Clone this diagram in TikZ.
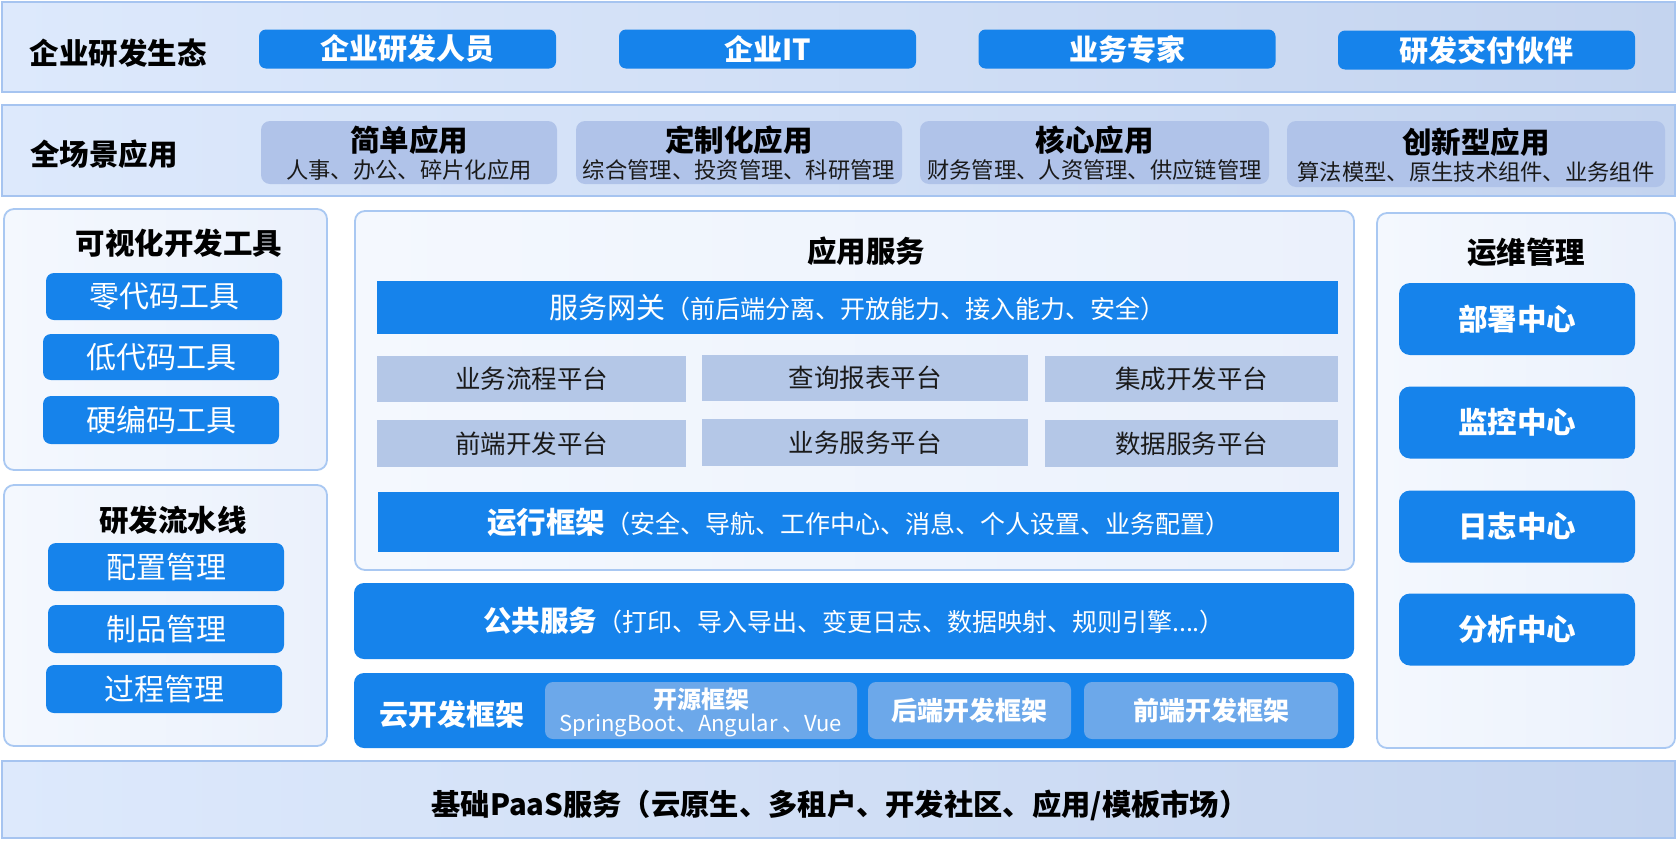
\documentclass[tikz,border=0pt]{standalone}
\usepackage{fontspec}
\setmainfont{Noto Sans CJK SC}
\definecolor{mblue}{HTML}{1683EB}
\definecolor{bandL}{HTML}{DDE9FC}
\definecolor{bandR}{HTML}{C4D4EF}
\definecolor{bandborder}{HTML}{A6C4F0}
\definecolor{panelL}{HTML}{F4F8FE}
\definecolor{panelR}{HTML}{EBF1FC}
\definecolor{panelborder}{HTML}{A9C8F2}
\definecolor{appbox}{HTML}{B0C3E9}
\definecolor{platbox}{HTML}{B4C7E7}
\definecolor{cloudsub}{HTML}{6CA8EA}
\definecolor{darktext}{HTML}{1A1A1A}
\newcommand\myfs[1]{\fontsize{#1}{#1}\selectfont}
\tikzset{
  band/.style={draw=bandborder, line width=1.5pt, left color=bandL, right color=bandR},
  panel/.style={draw=panelborder, line width=1.8pt, rounded corners=10pt, left color=panelL, right color=panelR},
  btn/.style={fill=mblue, rounded corners=7pt, text=white},
  appb/.style={fill=appbox, rounded corners=9pt},
  platb/.style={fill=platbox, text=darktext, font=\myfs{25.5}},
  bar/.style={fill=mblue, text=white},
  cloudb/.style={fill=cloudsub, rounded corners=8pt, text=white},
  ttl/.style={font=\bfseries\myfs{29.5}, text=black},
  tool/.style={btn, minimum width=236pt, rounded corners=8pt, font=\myfs{30}},
  ops/.style={btn, minimum width=236pt, minimum height=72pt, rounded corners=11pt, font=\bfseries\myfs{29.5}},
  every node/.style={inner sep=0pt, outer sep=0pt}
}
\begin{document}
\begin{tikzpicture}[x=1pt,y=-1pt]
\useasboundingbox (0,0) rectangle (1678,841);

% ---- row 1: ecosystem
\node[band, minimum width=1673pt, minimum height=90pt] (eco) at (838.5,47) {};
\node[ttl] (ecol) at (118,53) {企业研发生态};
\node[btn, minimum width=297pt, minimum height=39pt, font=\bfseries\myfs{29}] (eco1) at (407.5,49) {企业研发人员};
\node[btn, minimum width=297pt, minimum height=39pt, font=\bfseries\myfs{29}] (eco2) at (767.5,49) {企业IT};
\node[btn, minimum width=297pt, minimum height=39pt, font=\bfseries\myfs{29}] (eco3) at (1127,49) {业务专家};
\node[btn, minimum width=297pt, minimum height=39pt, font=\bfseries\myfs{29}] (eco4) at (1486.5,50) {研发交付伙伴};

% ---- row 2: applications
\node[band, minimum width=1673pt, minimum height=91pt] (app) at (838.5,150.5) {};
\node[ttl] (appl) at (104,154) {全场景应用};
\node[appb, minimum width=296pt, minimum height=63pt] (a1) at (409,152.5) {};
\node[appb, minimum width=326pt, minimum height=63pt] (a2) at (739,152.5) {};
\node[appb, minimum width=349pt, minimum height=63pt] (a3) at (1094.5,152.5) {};
\node[appb, minimum width=378pt, minimum height=66pt] (a4) at (1476,154) {};
\node[ttl] (a1t) at (409,140) {简单应用};
\node[font=\myfs{22.3}, text=darktext] (a1s) at (409,170) {人事、办公、碎片化应用};
\node[ttl] (a2t) at (739,140) {定制化应用};
\node[font=\myfs{22.3}, text=darktext] (a2s) at (739,170) {综合管理、投资管理、科研管理};
\node[ttl] (a3t) at (1094.5,140) {核心应用};
\node[font=\myfs{22.3}, text=darktext] (a3s) at (1094.5,170) {财务管理、人资管理、供应链管理};
\node[ttl] (a4t) at (1476,142) {创新型应用};
\node[font=\myfs{22.3}, text=darktext] (a4s) at (1476,172) {算法模型、原生技术组件、业务组件};

% ---- left column
\node[panel, minimum width=323pt, minimum height=261pt] (vis) at (165.5,339.5) {};
\node[ttl] (vist) at (179,243) {可视化开发工具};
\node[tool, minimum height=47pt] (t1) at (164,296.5) {零代码工具};
\node[tool, minimum height=46pt] (t2) at (161,357) {低代码工具};
\node[tool, minimum height=48pt] (t3) at (161,420) {硬编码工具};

\node[panel, minimum width=323pt, minimum height=261pt] (pipe) at (165.5,615.5) {};
\node[ttl] (pipet) at (173,520) {研发流水线};
\node[tool, minimum height=48pt] (p1) at (166,567) {配置管理};
\node[tool, minimum height=48pt] (p2) at (166,629) {制品管理};
\node[tool, minimum height=48pt] (p3) at (164,689) {过程管理};

% ---- centre column
\node[panel, minimum width=999pt, minimum height=359pt] (svc) at (854.5,390.5) {};
\node[ttl] (svct) at (866,251) {应用服务};
\node[bar, minimum width=961pt, minimum height=53pt] (gw) at (857.5,307.5)
  {{\myfs{29}服务网关}{\myfs{25}（前后端分离、开放能力、接入能力、安全）}};
\node[platb, minimum width=309pt, minimum height=46pt] (g11) at (531.5,379) {业务流程平台};
\node[platb, minimum width=326pt, minimum height=46pt] (g12) at (865,378) {查询报表平台};
\node[platb, minimum width=293pt, minimum height=46pt] (g13) at (1191.5,379) {集成开发平台};
\node[platb, minimum width=309pt, minimum height=47pt] (g21) at (531.5,443.5) {前端开发平台};
\node[platb, minimum width=326pt, minimum height=47pt] (g22) at (865,442.5) {业务服务平台};
\node[platb, minimum width=293pt, minimum height=47pt] (g23) at (1191.5,443.5) {数据服务平台};
\node[bar, minimum width=961pt, minimum height=60pt] (rt) at (858.5,522)
  {{\bfseries\myfs{29.5}运行框架}{\myfs{25}（安全、导航、工作中心、消息、个人设置、业务配置）}};

\node[bar, rounded corners=10pt, minimum width=1000pt, minimum height=76pt] (pub) at (854,621)
  {{\bfseries\myfs{28.5}公共服务}{\myfs{25}（打印、导入导出、变更日志、数据映射、规则引擎....）}};

\node[bar, rounded corners=10pt, minimum width=1000pt, minimum height=75pt] (cloud) at (854,710.5) {};
\node[font=\bfseries\myfs{29}, text=white] (cloudl) at (452,714) {云开发框架};
\node[cloudb, minimum width=312pt, minimum height=57pt] (c1) at (701,710.5) {};
\node[font=\bfseries\myfs{24}, text=white] (c1t) at (701,699) {开源框架};
\node[font=\myfs{22}, text=white] (c1s) at (701,725) {SpringBoot、Angular 、Vue};
\node[cloudb, minimum width=203pt, minimum height=57pt, font=\bfseries\myfs{26}] (c2) at (969.5,710.5) {后端开发框架};
\node[cloudb, minimum width=254pt, minimum height=57pt, font=\bfseries\myfs{26}] (c3) at (1211,710.5) {前端开发框架};

% ---- right column
\node[panel, minimum width=298pt, minimum height=535pt] (ops) at (1526,480.5) {};
\node[ttl] (opst) at (1526,252) {运维管理};
\node[ops] (o1) at (1517,319) {部署中心};
\node[ops] (o2) at (1517,422.5) {监控中心};
\node[ops] (o3) at (1517,526.5) {日志中心};
\node[ops] (o4) at (1517,629.5) {分析中心};

% ---- bottom band
\node[band, minimum width=1673pt, minimum height=77pt] (paas) at (838.5,799.5) {};
\node[font=\bfseries\myfs{29.3}, text=black] (paast) at (840,805) {基础PaaS服务（云原生、多租户、开发社区、应用/模板市场）};
\end{tikzpicture}
\end{document}
